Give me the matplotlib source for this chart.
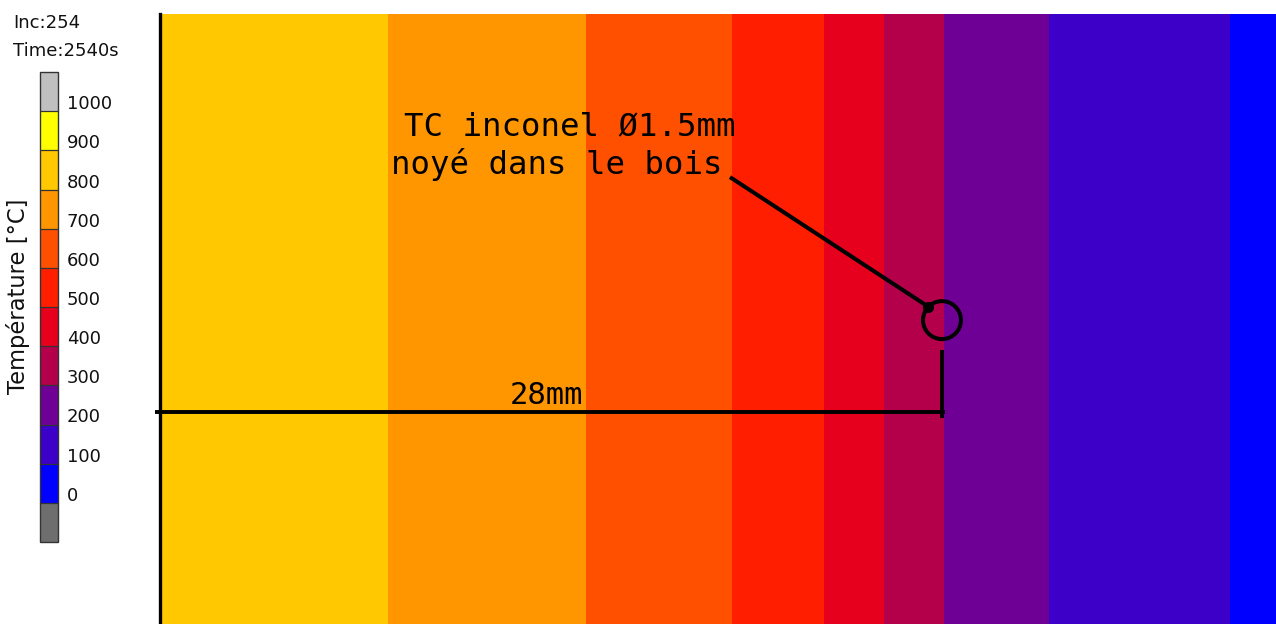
import matplotlib
matplotlib.use("Agg")
import matplotlib.pyplot as plt
import numpy as np
from matplotlib.colors import ListedColormap, BoundaryNorm
from matplotlib.cm import ScalarMappable
from matplotlib.patches import Circle
from matplotlib.transforms import ScaledTranslation

# ---------------- data ----------------
# colour scale (temperature classes, degC)
levels = [-100, 0, 100, 200, 300, 400, 500, 600, 700, 800, 900, 1000, 1100]
level_colors = ["#6e6e6e", "#0000ff", "#3c00c8", "#6e0096", "#b4004b", "#e6001e",
                "#ff1e00", "#ff5000", "#ff9600", "#ffc800", "#ffff00", "#c0c0c0"]
tick_values = [0, 100, 200, 300, 400, 500, 600, 700, 800, 900, 1000]

# isotherm band edges across the wood section (mm from exposed face)
band_edges_mm = [0.0, 8.17, 15.25, 20.49, 23.77, 25.92, 28.07, 31.84, 38.31, 39.96]
band_temps = [850, 750, 650, 550, 450, 350, 250, 150, 50]
section_height_mm = 21.84

# thermocouple
tc_x_mm = 28.0
tc_y_mm = 10.88
tc_radius_mm = 0.68
dim_y_mm = 7.59

# ---------------- figure ----------------
W, H = 1276, 624
fig = plt.figure(figsize=(W / 100, H / 100), dpi=100)

cmap = ListedColormap(level_colors)
norm = BoundaryNorm(levels, cmap.N)

# main field
ax = fig.add_axes([160 / W, 0, 1116 / W, 610 / H])
X = np.array(band_edges_mm)
Y = np.array([0.0, section_height_mm])
C = np.array([band_temps])
ax.pcolormesh(X, Y, C, cmap=cmap, norm=norm, shading="flat")
ax.set_xlim(0, band_edges_mm[-1])
ax.set_ylim(0, section_height_mm)
ax.set_aspect("auto")
ax.set_xticks([])
ax.set_yticks([])
for s in ["top", "right", "bottom"]:
    ax.spines[s].set_visible(False)
ax.spines["left"].set_linewidth(2.4)
ax.spines["left"].set_color("black")

# dimension lines
ax.plot([-0.18, tc_x_mm + 0.1], [dim_y_mm, dim_y_mm], color="black", lw=2.8,
        solid_capstyle="butt", clip_on=False)
ax.plot([tc_x_mm, tc_x_mm], [dim_y_mm - 0.21, tc_y_mm - 1.07], color="black", lw=2.8,
        solid_capstyle="butt")
fig.text(510 / W, 1 - 404 / H, "28mm", fontsize=22, family="DejaVu Sans Mono",
         ha="left", va="baseline")

# thermocouple circle and leader
ax.add_patch(Circle((tc_x_mm, tc_y_mm), tc_radius_mm, fill=False, lw=2.9, ec="black"))
ax.plot([20.41, 27.51], [16.0, 11.36], color="black", lw=2.9, solid_capstyle="butt")
ax.plot([27.51], [11.36], "o", color="black", ms=7)

fig.text(404 / W, 1 - 135 / H, "TC inconel Ø1.5mm", fontsize=23.3,
         family="DejaVu Sans Mono", ha="left", va="baseline")
fig.text(391 / W, 1 - 174 / H, "noyé dans le bois", fontsize=23.3,
         family="DejaVu Sans Mono", ha="left", va="baseline")

# colorbar
cax = fig.add_axes([40 / W, (H - 542) / H, 18.5 / W, 470 / H])
sm = ScalarMappable(norm=norm, cmap=cmap)
cb = fig.colorbar(sm, cax=cax, boundaries=levels, drawedges=True, spacing="uniform")
cb.outline.set_edgecolor("#333333")
cb.outline.set_linewidth(1.0)
cb.dividers.set_color("#333333")
cb.dividers.set_linewidth(0.9)
cb.set_ticks(tick_values)
cb.set_ticklabels([str(v) for v in tick_values])
cax.minorticks_off()
cax.tick_params(which="both", length=0, labelsize=13, pad=6, colors="#111111")
off = ScaledTranslation(0, 9 / 100, fig.dpi_scale_trans)
for lab in cax.get_yticklabels():
    lab.set_transform(lab.get_transform() + off)

fig.text(18 / W, 1 - 296 / H, "Température [°C]", rotation=90, fontsize=16.3,
         ha="center", va="center", color="#111111")
fig.text(13 / W, 1 - 28 / H, "Inc:254", fontsize=13, ha="left", va="baseline",
         color="#111111")
fig.text(13 / W, 1 - 56 / H, "Time:2540s", fontsize=13, ha="left", va="baseline",
         color="#111111")

fig.savefig("out.png", dpi=100)
